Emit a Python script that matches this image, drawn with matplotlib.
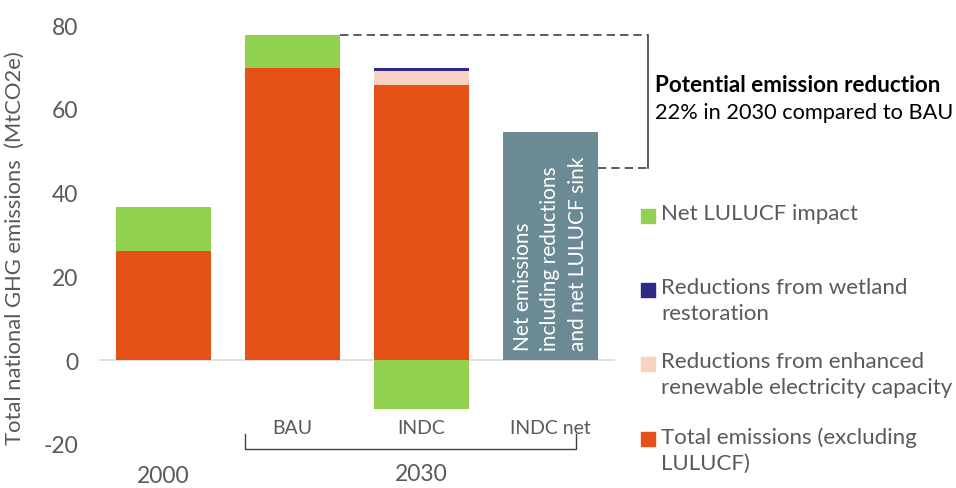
import numpy as np
import matplotlib
matplotlib.use("Agg")
import matplotlib.pyplot as plt
from matplotlib.patches import Rectangle

# data (MtCO2e)
positions = [0, 1, 2, 3]
total_emissions = [26.0, 69.7, 65.6, 0.0]
renewables = [0.0, 0.0, 3.4, 0.0]
wetland = [0.0, 0.0, 0.7, 0.0]
lulucf = [10.5, 7.9, -11.7, 0.0]
net_emissions = [0.0, 0.0, 0.0, 54.4]
sub_labels = ["BAU", "INDC", "INDC net"]
year_labels = ["2000", "2030"]
legend_labels = ["Net LULUCF impact",
                 "Reductions from wetland\nrestoration",
                 "Reductions from enhanced\nrenewable electricity capacity",
                 "Total emissions (excluding\nLULUCF)"]

ORANGE = "#E65117"
GREEN = "#92D050"
NAVY = "#2F2A85"
PINK = "#F9D2C2"
TEAL = "#6B8A93"
GREY = "#595959"

plt.rcParams['font.family'] = ['Lato', 'DejaVu Sans']
plt.rcParams['axes.unicode_minus'] = False
W, H = 956, 489
fig = plt.figure(figsize=(W / 100, H / 100), dpi=100)

def px(x, y):
    return x / W, 1 - y / H

ax = fig.add_axes([99 / W, 1 - 445 / H, 516 / W, 419 / H])
bw = 0.74

# stacked bars
tot = np.array(total_emissions)
ren = np.array(renewables)
wet = np.array(wetland)
lu = np.array(lulucf)
ax.bar(positions, tot, bw, color=ORANGE)
ax.bar(positions, ren, bw, bottom=tot, color=PINK)
ax.bar(positions, wet, bw, bottom=tot + ren, color=NAVY)
pos_lu = np.where(lu > 0, lu, 0)
neg_lu = np.where(lu < 0, lu, 0)
ax.bar(positions, pos_lu, bw, bottom=tot + ren + wet, color=GREEN)
ax.bar(positions, neg_lu, bw, color=GREEN)
ax.bar(positions, net_emissions, bw, color=TEAL)

ax.text(3, 25.7, "Net emissions\nincluding reductions\nand net LULUCF sink",
        rotation=90, ha='center', va='center', multialignment='left',
        color='white', fontsize=15, linespacing=1.49)

ax.set_xlim(-0.5, 3.5)
ax.set_ylim(-20, 80)
ax.set_yticks([-20, 0, 20, 40, 60, 80])
ax.set_xticks([])
ax.tick_params(axis='y', length=0, pad=15, labelsize=16.5, labelcolor=GREY)
for s in ax.spines.values():
    s.set_visible(False)
ax.axhline(0, color="#D9D9D9", lw=1.2, zorder=0)

ax.set_ylabel("Total national GHG emissions  (MtCO2e)", fontsize=15.8, color=GREY)
ax.yaxis.set_label_coords(-0.143, 0.47)

# category labels
for i, lab in enumerate(sub_labels):
    ax.text(i + 1, -16.0, lab, ha='center', va='center', fontsize=14, color=GREY,
            clip_on=False)
ax.text(0, -27.5, year_labels[0], ha='center', va='center', fontsize=16.5, color=GREY)
ax.text(2, -27.0, year_labels[1], ha='center', va='center', fontsize=16.5, color=GREY)

# bracket under 2030 bars
bx0, bx1 = 0.63, 3.20
ax.plot([bx0, bx0, bx1, bx1], [-17.7, -21.2, -21.2, -17.7], color="#404040",
        lw=1, clip_on=False)

# reduction bracket on the right
top_v = tot[1] + lu[1]
low_v = 45.8
xr = 3.755
ax.plot([1 + bw / 2, xr], [top_v, top_v], color="#404040", lw=1.2,
        ls=(0, (5, 3)), clip_on=False)
ax.plot([3 + bw / 2, xr], [low_v, low_v], color="#404040", lw=1.2,
        ls=(0, (5, 3)), clip_on=False)
ax.plot([xr, xr], [top_v, low_v], color="#404040", lw=1.2, clip_on=False)

fig.text(*px(655, 86), "Potential emission reduction", fontsize=16.2,
         fontweight='bold', color='black', va='center')
fig.text(*px(655, 113), "22% in 2030 compared to BAU", fontsize=15.7,
         color='black', va='center')

# legend
leg_colors = [GREEN, NAVY, PINK, ORANGE]
leg_y = [217, 291, 365, 440]
for c, lab, y in zip(leg_colors, legend_labels, leg_y):
    fig.patches.append(Rectangle(px(641, y + 7), 14 / W, 14 / H, color=c,
                                 transform=fig.transFigure, figure=fig))
    fig.text(*px(661, y - 13), lab, fontsize=16, color=GREY, va='top',
             linespacing=1.38)

fig.savefig("out.png", dpi=100)
